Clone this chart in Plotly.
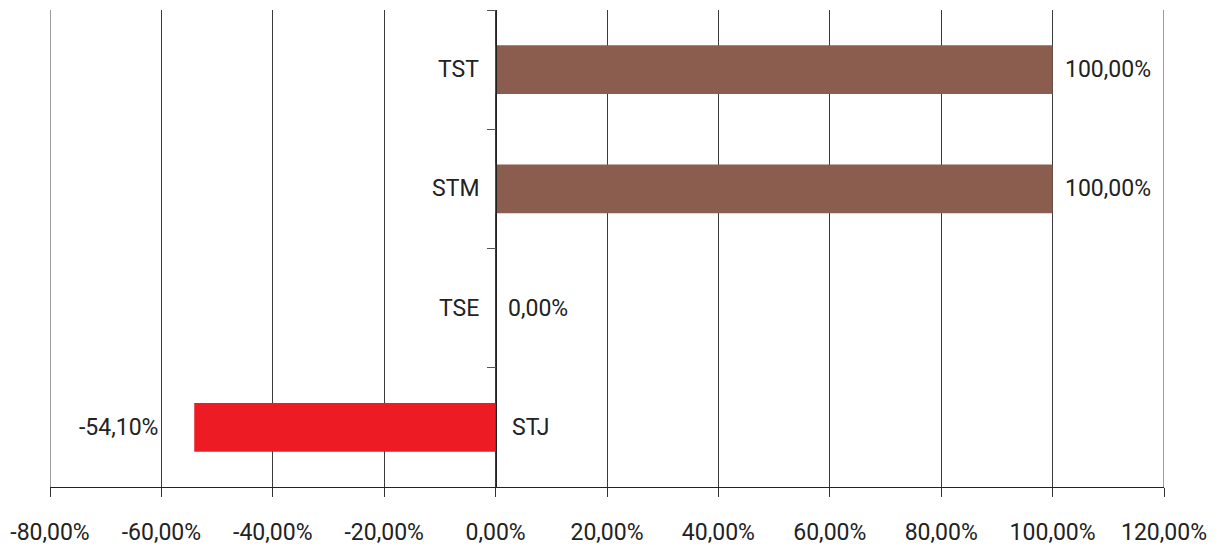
import plotly.graph_objects as go

categories = ["STJ", "TSE", "STM", "TST"]
values = [-0.541, 0.0, 1.0, 1.0]
value_labels = ["-54,10%", "0,00%", "100,00%", "100,00%"]
bar_colors = ["#ED1C24", "#8A5D4F", "#8A5D4F", "#8A5D4F"]
x_tickvals = [-0.8, -0.6, -0.4, -0.2, 0.0, 0.2, 0.4, 0.6, 0.8, 1.0, 1.2]
x_ticktext = ["-80,00%", "-60,00%", "-40,00%", "-20,00%", "0,00%", "20,00%",
              "40,00%", "60,00%", "80,00%", "100,00%", "120,00%"]

FONT = "Roboto"
FS = 23
TXT = "#222222"

ypos = list(range(len(categories)))

fig = go.Figure()
fig.add_trace(go.Bar(
    x=values, y=ypos, orientation="h", width=0.41,
    marker=dict(color=bar_colors, line=dict(width=0)),
    hoverinfo="skip",
))

annotations = []
for i, (cat, v, lab) in enumerate(zip(categories, values, value_labels)):
    if v >= 0:
        annotations.append(dict(x=0, y=i, xref="x", yref="y", text=cat, showarrow=False,
                                xanchor="right", xshift=-15, font=dict(family=FONT, size=FS, color=TXT)))
        annotations.append(dict(x=v, y=i, xref="x", yref="y", text=lab, showarrow=False,
                                xanchor="left", xshift=10, font=dict(family=FONT, size=FS, color=TXT)))
    else:
        annotations.append(dict(x=0, y=i, xref="x", yref="y", text=cat, showarrow=False,
                                xanchor="left", xshift=14, font=dict(family=FONT, size=FS, color=TXT)))
        annotations.append(dict(x=v, y=i, xref="x", yref="y", text=lab, showarrow=False,
                                xanchor="right", xshift=-34, font=dict(family=FONT, size=FS, color=TXT)))

# edge gridlines (plotly skips gridlines that sit exactly on the range ends)
shapes = [dict(type="line", xref="x", yref="paper", x0=xv, x1=xv, y0=0, y1=1,
               line=dict(color="#3a3a3a", width=1), layer="below")
          for xv in (x_tickvals[0], x_tickvals[-1])]

fig.update_layout(
    width=1219, height=547,
    margin=dict(l=50, r=55, t=10, b=60, autoexpand=False),
    paper_bgcolor="white", plot_bgcolor="white",
    showlegend=False,
    annotations=annotations,
    shapes=shapes,
    xaxis=dict(
        range=[x_tickvals[0], x_tickvals[-1]], tickvals=x_tickvals, ticktext=x_ticktext,
        showgrid=True, gridcolor="#3a3a3a", gridwidth=1,
        zeroline=False, showline=True, linecolor="#222222", linewidth=1,
        ticks="outside", ticklen=9, tickcolor="#333333",
        tickfont=dict(family=FONT, size=FS, color=TXT),
        ticklabelstandoff=15, fixedrange=True, automargin=False,
    ),
    yaxis=dict(
        range=[-0.5, 3.5], tickvals=[0.5, 1.5, 2.5, 3.5], ticktext=["", "", "", ""],
        showgrid=False, zeroline=False, showline=True, linecolor="#222222", linewidth=1,
        ticks="outside", ticklen=9, tickcolor="#555555",
        anchor="free", position=0.4, fixedrange=True, automargin=False,
    ),
)

fig.write_html(
    "out.html",
    config={"displayModeBar": False},
    post_script="document.body.style.margin='0';document.body.style.padding='0';document.body.style.overflow='hidden';",
)
